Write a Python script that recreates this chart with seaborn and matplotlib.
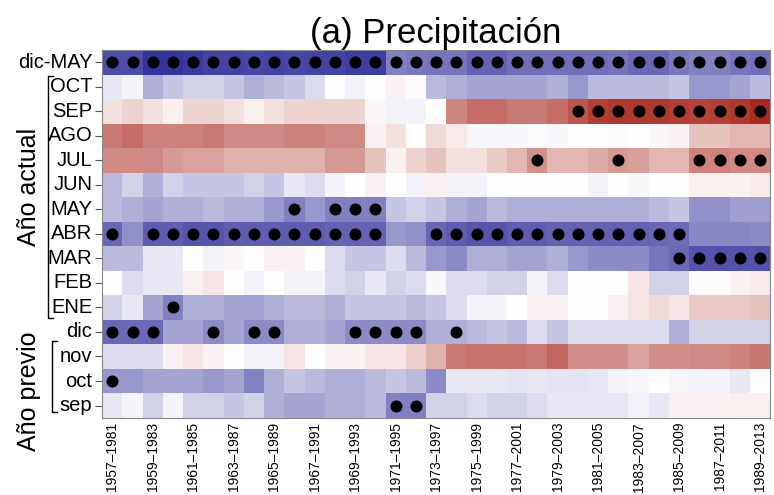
import numpy as np
import pandas as pd
import seaborn as sns
import matplotlib.pyplot as plt
from matplotlib.colors import LinearSegmentedColormap

# filas (de arriba a abajo) y ventanas de 25 años
meses = ["dic-MAY", "OCT", "SEP", "AGO", "JUL", "JUN", "MAY", "ABR", "MAR",
         "FEB", "ENE", "dic", "nov", "oct", "sep"]
ventanas = [f"{a}\u2013{a + 24}" for a in range(1957, 1990)]
etiquetas_x = ventanas[::2]

dic_may = [-0.78, -0.78, -0.88, -0.88, -0.86, -0.82, -0.82, -0.80, -0.82, -0.80, -0.82,
           -0.82, -0.84, -0.84, -0.55, -0.58, -0.60, -0.60, -0.68, -0.68, -0.62, -0.62,
           -0.62, -0.62, -0.62, -0.60, -0.65, -0.65, -0.58, -0.55, -0.55, -0.60, -0.62]
oct_act = [-0.10, -0.05, -0.35, -0.25, -0.20, -0.20, -0.25, -0.35, -0.30, -0.25, -0.15,
           0.00, -0.05, 0.00, 0.05, 0.02, -0.30, -0.35, -0.40, -0.40, -0.40, -0.40,
           -0.35, -0.45, -0.30, -0.30, -0.30, -0.30, -0.25, -0.45, -0.45, -0.40, -0.30]
sep_act = [0.12, 0.18, 0.12, 0.06, 0.18, 0.18, 0.12, 0.06, 0.12, 0.18, 0.18,
           0.18, 0.18, 0.03, -0.05, -0.05, 0.00, 0.50, 0.60, 0.60, 0.55, 0.55,
           0.60, 0.70, 0.80, 0.82, 0.82, 0.82, 0.80, 0.78, 0.80, 0.82, 0.88]
ago_act = [0.55, 0.60, 0.52, 0.52, 0.52, 0.55, 0.48, 0.48, 0.48, 0.52, 0.52,
           0.48, 0.48, 0.05, 0.12, 0.00, 0.15, 0.08, -0.04, -0.04, -0.04, -0.02,
           -0.04, 0.00, 0.00, 0.02, 0.00, 0.03, 0.05, 0.25, 0.25, 0.30, 0.30]
jul_act = [0.48, 0.48, 0.48, 0.42, 0.38, 0.38, 0.32, 0.32, 0.32, 0.32, 0.32,
           0.42, 0.42, 0.25, 0.06, 0.18, 0.25, 0.12, 0.12, 0.22, 0.30, 0.45,
           0.30, 0.30, 0.35, 0.42, 0.40, 0.30, 0.30, 0.52, 0.52, 0.48, 0.48]
jun_act = [-0.30, -0.20, -0.35, -0.20, -0.25, -0.25, -0.25, -0.20, -0.25, -0.10, -0.15,
           -0.05, 0.00, 0.05, 0.00, -0.05, 0.05, -0.05, -0.05, 0.00, 0.00, 0.00,
           0.00, 0.00, -0.05, 0.00, -0.03, 0.00, 0.00, 0.06, 0.06, 0.06, 0.08]
may_act = [-0.30, -0.35, -0.40, -0.35, -0.35, -0.30, -0.35, -0.35, -0.45, -0.55, -0.45,
           -0.55, -0.55, -0.55, -0.25, -0.20, -0.25, -0.35, -0.40, -0.30, -0.35, -0.35,
           -0.35, -0.35, -0.35, -0.35, -0.35, -0.30, -0.25, -0.48, -0.48, -0.42, -0.42]
abr_act = [-0.66, -0.48, -0.70, -0.70, -0.74, -0.74, -0.70, -0.70, -0.70, -0.70, -0.70,
           -0.68, -0.68, -0.68, -0.45, -0.48, -0.66, -0.70, -0.74, -0.74, -0.70, -0.70,
           -0.68, -0.68, -0.68, -0.68, -0.68, -0.66, -0.64, -0.52, -0.52, -0.52, -0.50]
mar_act = [-0.30, -0.30, -0.10, -0.10, 0.00, -0.05, 0.03, 0.00, 0.05, 0.05, 0.00,
           -0.15, -0.25, -0.25, -0.15, -0.30, -0.45, -0.50, -0.35, -0.35, -0.40, -0.40,
           -0.35, -0.45, -0.50, -0.50, -0.50, -0.60, -0.65, -0.75, -0.75, -0.75, -0.75]
feb_act = [0.00, -0.15, -0.10, -0.10, 0.05, 0.10, 0.00, -0.05, 0.00, -0.05, -0.05,
           -0.15, -0.20, -0.10, -0.20, -0.15, -0.03, -0.15, -0.15, -0.20, -0.20, -0.05,
           -0.15, 0.00, 0.00, 0.00, 0.10, -0.20, -0.20, 0.02, 0.02, 0.05, 0.08]
ene_act = [-0.20, -0.10, -0.40, -0.55, -0.35, -0.35, -0.40, -0.40, -0.35, -0.30, -0.30,
           -0.35, -0.25, -0.25, -0.25, -0.30, -0.25, -0.15, -0.05, -0.05, 0.00, 0.05,
           0.05, 0.00, 0.00, 0.05, 0.10, 0.15, 0.10, 0.22, 0.22, 0.22, 0.25]
dic_prev = [-0.65, -0.65, -0.65, -0.40, -0.40, -0.50, -0.40, -0.50, -0.50, -0.35, -0.35,
            -0.40, -0.50, -0.50, -0.50, -0.50, -0.35, -0.35, -0.30, -0.25, -0.30, -0.15,
            -0.25, -0.15, -0.15, -0.15, -0.15, -0.15, -0.35, -0.20, -0.20, -0.20, -0.20]
nov_prev = [-0.15, -0.15, -0.15, 0.05, 0.10, 0.05, 0.00, -0.05, -0.05, 0.10, 0.00,
            0.05, 0.05, 0.10, 0.10, 0.20, 0.32, 0.55, 0.58, 0.58, 0.58, 0.55,
            0.62, 0.46, 0.46, 0.46, 0.38, 0.46, 0.46, 0.48, 0.48, 0.52, 0.56]
oct_prev = [-0.45, -0.45, -0.40, -0.40, -0.40, -0.45, -0.40, -0.55, -0.35, -0.25, -0.30,
            -0.35, -0.35, -0.30, -0.25, -0.30, -0.50, -0.10, -0.10, -0.10, -0.12, -0.10,
            -0.12, -0.12, -0.10, -0.05, -0.03, 0.00, -0.03, -0.05, -0.05, -0.10, 0.00]
sep_prev = [-0.10, -0.05, -0.20, -0.05, -0.20, -0.20, -0.25, -0.20, -0.35, -0.40, -0.40,
            -0.35, -0.35, -0.30, -0.55, -0.55, -0.20, -0.20, -0.15, -0.20, -0.20, -0.15,
            -0.10, -0.10, -0.10, -0.10, -0.05, -0.10, 0.05, 0.05, 0.05, 0.07, 0.07]

# ventanas significativas (índices de columna) por fila
signif = {
    "dic-MAY": list(range(33)),
    "SEP": list(range(23, 33)),
    "JUL": [21, 25, 29, 30, 31, 32],
    "MAY": [9, 11, 12, 13],
    "ABR": [0] + list(range(2, 14)) + list(range(16, 29)),
    "MAR": list(range(28, 33)),
    "ENE": [3],
    "dic": [0, 1, 2, 5, 7, 8, 12, 13, 14, 15, 17],
    "oct": [0],
    "sep": [14, 15],
}

corr = pd.DataFrame([dic_may, oct_act, sep_act, ago_act, jul_act, jun_act, may_act,
                     abr_act, mar_act, feb_act, ene_act, dic_prev, nov_prev, oct_prev,
                     sep_prev], index=meses, columns=ventanas)

plt.rcParams['font.family'] = ['Liberation Sans', 'DejaVu Sans']

cmap = LinearSegmentedColormap.from_list("precip", ["#33309a", "#ffffff", "#a8261b"])

fig = plt.figure(figsize=(7.74, 4.95), dpi=100)
ax = fig.add_axes([0.132, 0.156, 0.863, 0.743])
sns.heatmap(corr, cmap=cmap, vmin=-0.9, vmax=0.9, cbar=False, ax=ax)

for fila, cols in signif.items():
    i = meses.index(fila)
    ax.scatter(np.array(cols) + 0.5, np.full(len(cols), i + 0.5), s=75,
               color="black", linewidths=0, zorder=3)

ax.set_xticks(np.arange(0, 33, 2) + 0.5)
ax.set_xticklabels(etiquetas_x, rotation=90, fontsize=10)
ax.set_yticks(np.arange(len(meses)) + 0.5)
ax.set_yticklabels(meses, rotation=0, fontsize=14.5)
ax.tick_params(axis="y", length=5, width=0.8, pad=2, color="#555555")
ax.tick_params(axis="x", length=0, pad=3)
ax.set_xlabel("")
ax.set_ylabel("")
for sp in ax.spines.values():
    sp.set_visible(True)
    sp.set_color("#888888")
    sp.set_linewidth(0.8)

ax.set_title("(a) Precipitación", fontsize=25, pad=5)

# llaves de agrupación a la izquierda
tr = ax.get_yaxis_transform()
for x0, y0, y1 in [(-0.081, 1.06, 10.94), (-0.075, 11.85, 14.75)]:
    ax.plot([x0 + 0.008, x0, x0, x0 + 0.008], [y0, y0, y1, y1], transform=tr,
            color="black", lw=1.0, clip_on=False)
ax.text(-0.11, 5.6, "Año actual", transform=tr, rotation=90, ha="center",
        va="center", fontsize=18)
ax.text(-0.11, 13.9, "Año previo", transform=tr, rotation=90, ha="center",
        va="center", fontsize=18)

plt.savefig("out.png", dpi=100)
